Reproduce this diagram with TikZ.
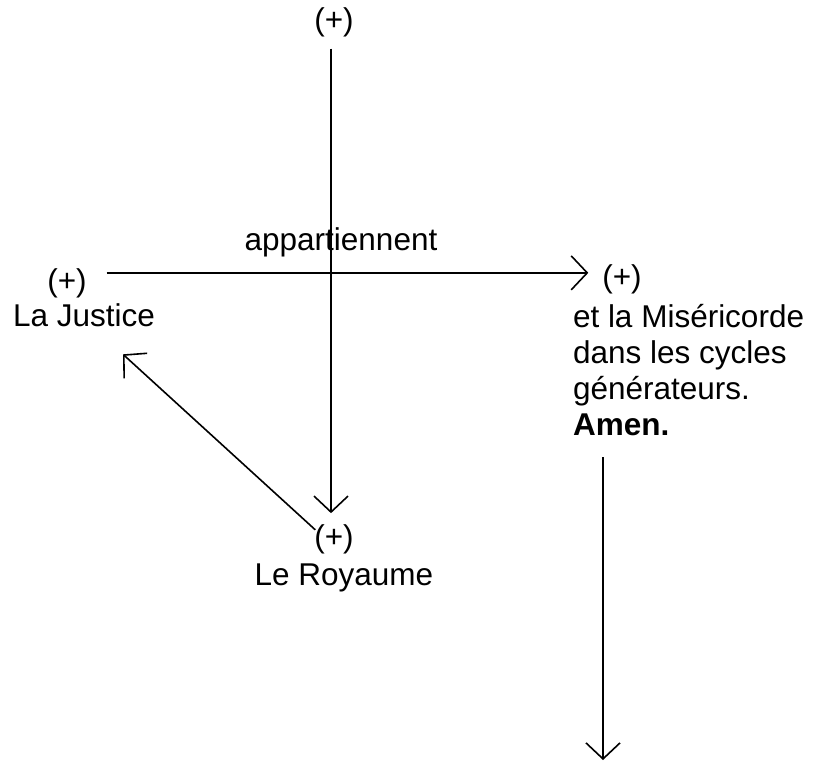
\documentclass[tikz,border=0pt]{standalone}
\usepackage{fontspec}
\setmainfont{Liberation Sans}
\usetikzlibrary{arrows.meta}
\begin{document}
\begin{tikzpicture}[x=1pt,y=-1pt,
  txt/.style={inner sep=0pt, outer sep=0pt, anchor=base, font=\fontsize{31.5}{36}\selectfont},
  ltxt/.style={txt, anchor=base west},
  arr/.style={line width=1.6pt, -{Straight Barb[length=16pt,width=34pt,line width=1.6pt]}}]
\useasboundingbox (0,0) rectangle (813,762);
\node[txt] (topplus) at (334,31) {(+)};
\node[txt] (jplus) at (67,291) {(+)};
\node[txt] (justice) at (84,326) {La Justice};
\node[txt] (rplus) at (622,287) {(+)};
\node[ltxt] (misc1) at (573,327) {et la Miséricorde};
\node[ltxt] (misc2) at (573,363) {dans les cycles};
\node[ltxt] (misc3) at (573,399) {générateurs.};
\node[ltxt] (amen) at (573,435) {\textbf{Amen.}};
\node[txt] (kplus) at (334,547) {(+)};
\node[txt] (royaume) at (344,585) {Le Royaume};
\coordinate (bottom) at (603,760);
% vertical arrow from top to Le Royaume
\draw[arr] ([xshift=-3pt,yshift=-11pt]topplus.south) -- ([xshift=-3pt,yshift=11pt]kplus.north);
% horizontal arrow
\coordinate (hstart) at ([xshift=20pt,yshift=10pt]jplus.east);
\draw[arr] (hstart) -- node[txt, pos=0.4865, yshift=22pt] {appartiennent} ([xshift=-14pt]hstart -| rplus.west);
% diagonal arrow
\draw[arr] ([xshift=1pt,yshift=9pt]kplus.west) -- ([xshift=39pt,yshift=-28pt]justice.south);
% right arrow
\draw[arr] ([xshift=30pt,yshift=-22pt]amen.south west) -- (bottom);
\end{tikzpicture}
\end{document}
